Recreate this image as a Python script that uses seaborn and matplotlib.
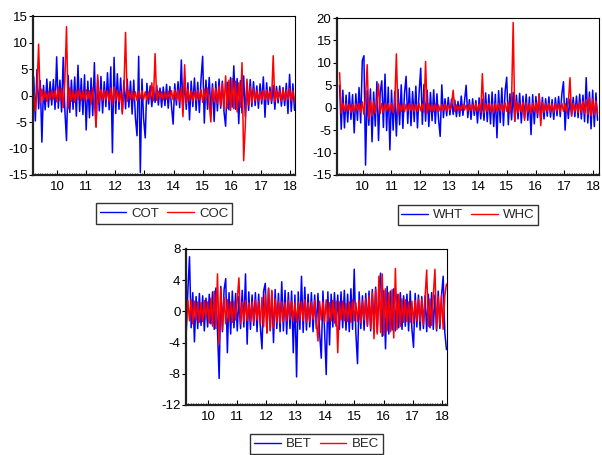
import numpy as np
import pandas as pd
import matplotlib
matplotlib.use("Agg")
import matplotlib.pyplot as plt
import seaborn as sns
from matplotlib.ticker import FixedLocator, MultipleLocator

# time axis: fractional years, roughly 2009.2 .. 2018.15
t_start, t_end, n_obs = 2009.2, 2018.15, 160
years = [2010, 2011, 2012, 2013, 2014, 2015, 2016, 2017, 2018]
year_labels = ['10', '11', '12', '13', '14', '15', '16', '17', '18']

# panel 1
cot = [3.5, -4.8, 4.9, -2.5, 2.8, -8.8, 1.9, -2.7, 3.1, -2.2,
       2.6, -1.8, 3.0, -2.6, 7.3, -2.4, 2.9, -3.1, 7.2, -2.8,
       -8.5, 3.8, -3.2, 2.9, -2.6, 3.5, -3.9, 5.7, -3.0, 3.2,
       -3.6, 3.9, -6.5, 2.7, -4.2, 3.3, -3.8, 6.2, -5.8, 3.0,
       -2.9, 3.6, -3.3, 2.6, -2.1, 4.3, -2.7, 5.4, -10.8, 7.2,
       -3.4, 4.1, -2.6, 3.3, -3.1, 2.8, -2.5, 3.1, -2.2, 2.7,
       -3.5, 2.9, -4.2, -7.6, 7.4, -14.5, 3.1, -4.4, -8.0, 2.3,
       -1.6, 1.8, -2.1, 1.5, -1.3, 1.9, -1.8, 1.4, -2.2, 1.6,
       -1.9, 2.1, -2.4, 1.7, -2.0, -5.4, 2.2, -1.8, 2.6, -2.3,
       6.7, -2.9, 3.1, -2.6, 2.4, -4.6, 2.7, -2.1, 3.3, -2.8,
       2.5, -3.2, 3.0, 7.4, -5.2, 2.9, -2.6, 3.4, -3.1, 2.2,
       -4.9, 2.6, -2.9, 3.1, -2.4, 2.7, -3.0, -5.8, 2.5, -2.7,
       3.4, -2.2, 5.6, -2.6, 3.2, -5.3, 2.8, -3.3, 3.7, -4.0,
       2.4, -2.8, 3.0, -2.1, 2.6, -1.9, 1.8, -2.4, 2.2, -1.6,
       3.5, -4.1, 2.4, -1.7, 1.6, -1.5, 1.9, -2.6, 1.7, -1.4,
       1.8, -2.0, 1.5, -1.9, 2.3, -3.4, 4.0, -3.0, 2.2, -2.8]
coc = [0.9, -2.9, 1.1, 9.7, -1.4, 1.2, -0.9, 0.8, -1.1, 0.7,
       -0.8, 1.0, -0.7, 0.9, -1.2, 1.5, -1.0, 1.3, -2.3, 2.8,
       13.0, -2.5, 1.4, -1.1, 0.9, -1.3, 1.0, -0.8, 1.2, -0.9,
       0.8, -1.0, 1.1, -0.7, 0.9, -1.6, 1.4, -1.2, -6.0, 3.9,
       -1.3, 1.1, -0.9, 1.0, -0.8, 0.9, -1.1, 1.4, -1.7, 1.6,
       -0.9, 1.0, -1.2, 0.8, -3.5, 1.3, 11.9, -1.1, 0.9, -0.7,
       0.8, -0.9, 0.7, -1.0, 0.8, -0.6, 0.9, -0.8, 0.7, -0.9,
       0.6, -0.7, 2.4, -1.0, 7.9, -0.9, 0.8, -0.6, 0.7, -0.8,
       0.6, -0.7, 0.8, -0.6, 0.9, -0.8, 1.1, -0.9, 1.0, -1.2,
       1.4, -4.0, 5.8, -1.5, 1.2, -1.0, 0.9, -1.1, 0.8, -0.9,
       1.0, -0.8, 1.1, -1.3, 1.2, -0.9, 1.4, -1.6, -5.0, 1.5,
       -1.2, 1.3, -1.5, 1.8, -2.0, 2.3, -2.6, 3.7, -2.4, 2.9,
       -2.8, 3.2, -2.5, 2.7, -3.1, 2.4, -2.2, 6.2, -12.3, -5.7,
       3.1, -1.8, 1.6, -1.4, 1.2, -1.0, 0.9, -1.1, 0.8, -0.9,
       1.0, -0.8, 1.1, -0.9, 0.8, -1.0, 7.5, -1.2, 0.9, -0.8,
       0.9, -1.1, 1.2, -0.9, 1.0, -0.8, 1.3, -1.0, 0.9, -1.1]

# panel 2
wht = [5.0, -4.8, 3.9, -4.5, 2.8, -3.2, 3.4, -2.6, 2.9, -5.6,
       3.1, -2.8, 4.5, -3.4, 10.5, 11.6, -12.8, 3.8, -3.9, 4.2,
       -7.6, 3.5, -4.1, 5.8, -7.3, 3.3, 6.0, -4.4, 7.5, -5.1,
       4.6, -9.4, 3.9, -5.0, 3.6, -6.3, 4.1, -3.8, 5.1, -4.6,
       3.2, 7.0, -3.5, 4.4, -4.0, 3.6, -3.1, 4.8, -4.5, 3.3,
       8.8, -3.7, 5.2, -3.0, 3.9, -4.2, 3.4, -2.9, 4.0, -3.5,
       3.1, -2.6, -6.4, 5.1, -2.2, 2.0, -1.8, 2.3, -1.6, 1.9,
       -1.5, 1.7, -2.0, 1.4, -1.9, 2.6, -1.7, 1.5, 5.0, -2.2,
       1.8, -2.6, 2.0, -1.7, 1.6, -3.4, 2.2, -2.5, 1.9, -2.8,
       3.3, -3.1, 2.9, -3.6, 3.5, -4.2, 3.0, -6.7, 3.8, -3.3,
       4.4, -4.0, 3.6, 6.8, -3.8, 3.1, -2.7, 3.4, -3.0, 2.8,
       -2.5, 3.2, -3.4, 2.6, -2.3, 3.0, -2.8, 2.4, -6.0, 2.9,
       -3.6, 2.5, -2.2, 3.1, -2.7, 2.3, -2.5, 2.0, -1.9, 2.4,
       -2.1, 1.8, -2.6, 2.2, -1.8, 2.5, -2.0, 3.1, 5.8, -5.0,
       2.1, -2.4, 1.9, -1.7, 2.3, -2.0, 2.6, -2.2, 3.0, -2.5,
       2.8, -3.1, 6.7, -3.4, 3.5, -4.7, 3.9, -4.2, 3.3, -2.8]
whc = [7.8, -1.2, 1.0, -0.8, 0.9, -0.7, 0.8, -1.0, 0.7, -0.9,
       0.8, -0.6, 0.9, -1.1, 1.3, -1.5, 2.2, 9.6, -2.5, 1.6,
       -1.8, 1.4, -1.2, 1.1, 5.3, -1.3, 0.9, -1.0, 0.8, -0.7,
       0.9, -0.8, 1.0, -1.1, 0.8, 12.0, -1.5, 0.9, -0.8, 0.7,
       -0.9, 0.8, -0.7, 0.9, -0.6, 0.8, -0.9, 0.7, -0.8, 0.9,
       -0.7, 0.8, -1.0, 10.3, -1.2, 0.9, -0.8, 0.7, -0.9, 0.8,
       -0.7, 0.6, -0.8, 0.7, -0.6, 0.8, -0.7, 0.6, -0.5, 0.7,
       3.9, -0.8, 0.6, -0.7, 0.5, -0.6, 0.7, -0.5, 0.6, -0.7,
       0.8, -0.6, 0.7, -0.8, 0.9, -0.7, 0.8, -1.0, 7.6, -1.1,
       0.9, -0.8, 1.0, -0.9, 0.8, -1.1, 0.9, -0.8, 1.0, -0.7,
       0.9, -1.0, 1.1, -0.8, 1.2, -1.3, 1.6, 19.0, -3.0, 1.4,
       -1.1, 1.0, -0.9, 1.2, -2.8, 1.1, -1.0, 0.9, -1.2, 1.0,
       -0.9, 1.1, -1.3, 3.0, -4.0, 1.2, -1.0, 0.9, -0.8, 1.0,
       -0.9, 0.8, -1.0, 0.9, -0.7, 0.8, -0.9, 1.0, -0.8, 0.9,
       -1.0, 1.1, 6.7, -1.9, 1.0, -0.9, 0.8, -1.1, 1.2, -1.0,
       1.4, -1.3, 1.8, -1.5, 2.3, -1.8, 2.0, -1.6, 1.5, -1.2]

# panel 3
bet = [1.8, -2.8, 2.6, 7.0, -2.1, 2.4, -3.9, 1.9, -2.2, 2.3,
       -1.8, 2.0, -2.5, 1.7, -2.0, 2.2, -1.6, 2.5, -2.3, 3.0,
       -2.4, -8.6, 3.2, -2.6, 2.8, 4.2, -5.3, 2.4, -2.9, 2.6,
       -2.1, 2.3, -2.5, 1.9, -2.2, 2.7, -2.0, 4.8, -4.2, 2.5,
       -2.3, 2.1, -1.8, 2.4, -2.6, 2.2, -2.0, -4.8, 2.6, 3.6,
       -2.7, 2.9, -2.4, 2.5, -4.0, 2.8, -2.2, 2.3, -2.6, 3.8,
       -2.5, 2.7, -2.9, 2.4, -2.2, 2.6, -5.3, 2.1, -8.4, 2.5,
       -2.3, 4.5, -2.7, 3.1, -2.4, 2.2, -2.0, 2.4, -2.6, 2.1,
       -2.2, 2.3, -2.8, -6.0, 2.6, -2.4, -8.1, 2.5, -4.3, 2.2,
       -2.0, 2.4, -1.9, 2.1, -2.3, 2.5, -2.1, 2.7, -2.4, 2.2,
       -2.6, 2.9, -2.3, 5.4, -2.8, -6.7, 2.5, -2.2, 2.0, -2.4,
       2.3, -1.9, 2.6, -2.5, 2.8, -2.2, 3.1, -2.7, 3.0, 4.9,
       -3.2, 2.7, -4.8, 3.2, -2.9, 2.6, -2.4, 2.9, -2.5, 2.2,
       -2.1, 2.4, -2.3, 2.0, -1.9, 2.2, -2.5, 2.6, -2.2, -4.6,
       2.3, -2.0, 2.1, -2.4, 1.9, -2.2, 2.0, -2.6, 2.2, -2.1,
       2.4, -2.3, 2.1, -2.5, 2.6, -2.2, 2.0, 4.5, -2.7, -4.9]
bec = [1.8, -1.8, 1.4, -1.2, 1.5, -1.6, 1.3, -1.1, 1.2, -1.4,
       1.1, -1.3, 1.4, -1.0, 1.2, -1.5, 1.7, -1.9, 2.6, -2.2,
       4.8, -4.2, 2.9, -2.4, 1.8, -1.6, 1.5, -1.3, 1.2, -1.4,
       1.3, -1.1, 1.5, 4.3, -1.6, 1.2, -1.3, 1.4, -1.2, 1.1,
       -1.3, 1.2, -1.4, 1.5, -1.1, 1.3, -1.6, 1.8, -2.0, 2.2,
       -2.8, 3.0, -2.5, 2.7, -2.1, 1.6, -1.4, 1.3, -1.5, 1.2,
       -1.3, 1.1, -1.2, 1.4, -1.0, 1.3, -1.2, 1.1, -1.4, 1.2,
       -1.1, 1.3, -1.2, 1.5, -1.4, 1.1, -1.3, 1.2, -1.0, 1.4,
       -1.2, -3.8, 1.3, -1.1, 1.2, -1.4, 1.5, -1.3, 1.1, -1.2,
       1.4, -1.5, 1.3, -5.3, 1.2, -1.1, 1.3, -1.2, 1.0, -1.3,
       1.2, -1.4, 1.5, -1.2, 1.1, -1.3, 1.4, -1.5, 1.3, -1.1,
       1.6, -1.8, 2.0, -2.2, 2.4, -3.5, 2.8, -2.9, 4.5, -2.7,
       4.8, -3.1, 2.9, -2.5, 2.4, -2.6, 2.8, -3.4, 5.5, -2.3,
       2.2, -1.9, 1.6, -1.4, 1.5, -1.3, 1.2, -1.4, 1.3, -1.5,
       1.4, -1.2, 1.6, -1.3, 1.5, -1.7, 1.8, 5.3, -1.9, 1.6,
       -1.8, 2.0, 5.4, -2.2, 1.9, -1.7, 2.1, -2.3, 2.0, 3.5]

sns.set_style("white")
plt.rcParams['font.family'] = ['Liberation Sans', 'DejaVu Sans']

t = np.linspace(t_start, t_end, n_obs)

fig = plt.figure(figsize=(6.02, 4.55), dpi=100)

panels = [
    # (axes rect, blue series, red series, names, ylim, yticks, xlim, legend y)
    ([0.055, 0.6154, 0.4352, 0.3494], cot, coc, ('COT', 'COC'), (-15, 15),
     [-15, -10, -5, 0, 5, 10, 15], (2009.18, 2018.17), -0.242),
    ([0.5598, 0.6154, 0.4352, 0.3450], wht, whc, ('WHT', 'WHC'), (-15, 20),
     [-15, -10, -5, 0, 5, 10, 15, 20], (2009.11, 2018.2), -0.255),
    ([0.309, 0.1099, 0.4336, 0.3429], bet, bec, ('BET', 'BEC'), (-12, 8),
     [-12, -8, -4, 0, 4, 8], (2009.25, 2018.17), -0.25),
]

for rect, blue_vals, red_vals, names, ylim, yticks, xlim, leg_y in panels:
    ax = fig.add_axes(rect)
    df = pd.DataFrame({'t': t, names[0]: blue_vals, names[1]: red_vals})

    sns.lineplot(data=df, x='t', y=names[0], color='#0000FF', linewidth=1.1,
                 label=names[0], ax=ax, sort=False)
    sns.lineplot(data=df, x='t', y=names[1], color='#FF0000', linewidth=1.1,
                 label=names[1], ax=ax, sort=False)

    ax.set_xlim(*xlim)
    ax.set_ylim(*ylim)
    ax.set_xlabel('')
    ax.set_ylabel('')
    ax.set_yticks(yticks)
    ax.set_yticklabels([str(v) for v in yticks])
    ax.xaxis.set_major_locator(FixedLocator(years))
    ax.set_xticklabels(year_labels)
    ax.xaxis.set_minor_locator(MultipleLocator(1 / 12))

    ax.tick_params(axis='y', which='major', direction='out', length=3, width=0.8,
                   left=True, right=False, labelsize=9.5, pad=1, colors='black')
    ax.tick_params(axis='x', which='major', direction='in', length=3.5, width=0.8,
                   bottom=True, top=False, labelsize=9.5, pad=4, colors='black')
    ax.tick_params(axis='x', which='minor', direction='in', length=1.8, width=0.6,
                   bottom=True, top=False)

    for side in ['top', 'right']:
        ax.spines[side].set_linewidth(0.8)
        ax.spines[side].set_color('black')
    for side in ['left', 'bottom']:
        ax.spines[side].set_linewidth(1.6)
        ax.spines[side].set_color('#222222')

    leg = ax.legend(loc='center', bbox_to_anchor=(0.5, leg_y), ncol=2,
                    frameon=True, fancybox=False, edgecolor='black',
                    fontsize=9.5, handlelength=2.0, handletextpad=0.4,
                    columnspacing=0.6, borderpad=0.3, borderaxespad=0)
    leg.get_frame().set_linewidth(1.0)
    for line in leg.get_lines():
        line.set_linewidth(1.0)

fig.savefig('out.png', dpi=100)
